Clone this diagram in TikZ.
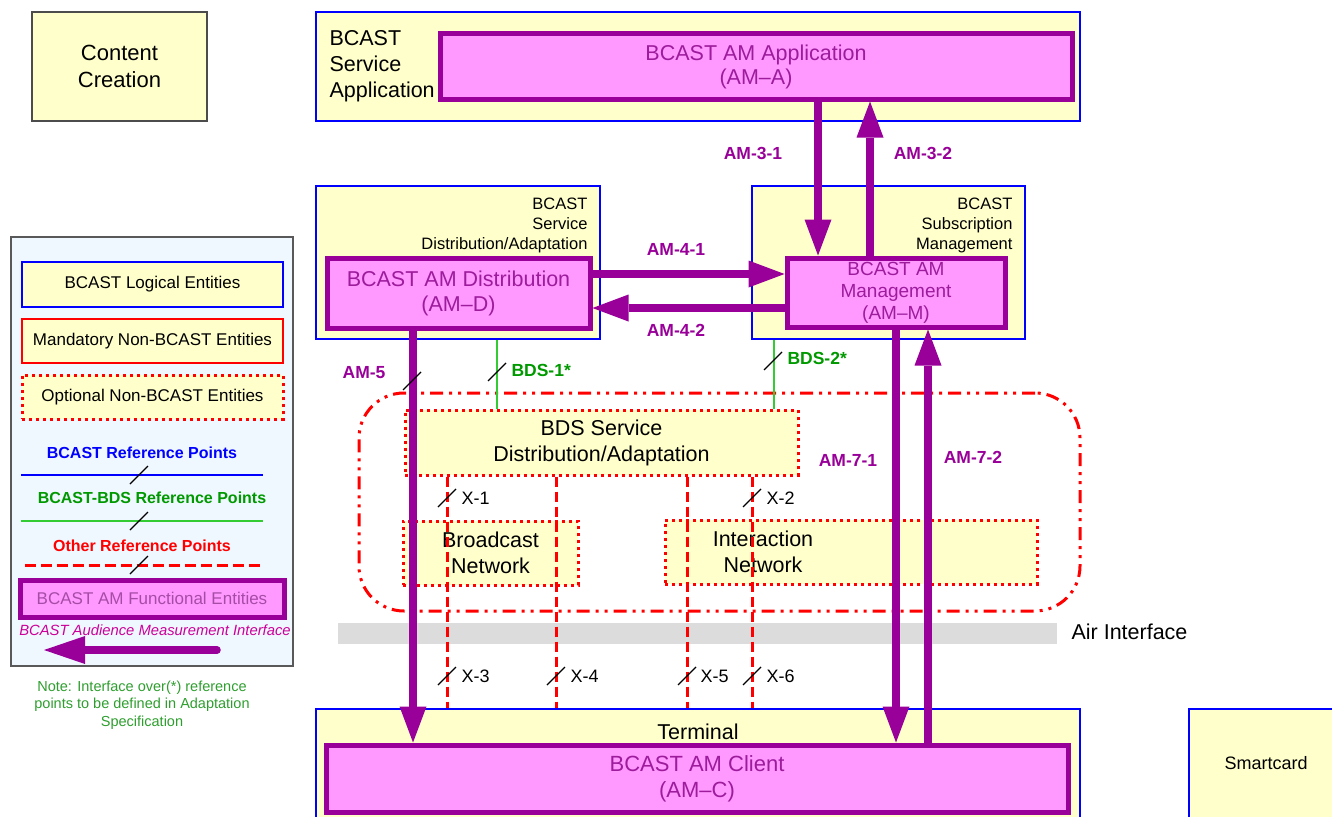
\documentclass[tikz,border=0pt]{standalone}
\usepackage{fontspec}
\setmainfont{Liberation Sans}
\usetikzlibrary{arrows.meta}
\definecolor{byel}{HTML}{FFFFCC}
\definecolor{bblue}{HTML}{0000FF}
\definecolor{ampurple}{HTML}{990099}
\definecolor{ampink}{HTML}{FF99FF}
\definecolor{amtext}{HTML}{9C1C9C}
\definecolor{amlight}{HTML}{A64CA6}
\definecolor{bgreen}{HTML}{33CC33}
\definecolor{tgreen}{HTML}{009900}
\definecolor{notegreen}{HTML}{2E9E2E}
\definecolor{lgbg}{HTML}{F0F8FF}
\definecolor{airgray}{HTML}{DCDCDC}
\definecolor{magtext}{HTML}{CC0099}
\newcommand{\myfs}[2]{\fontsize{#1}{#2}\selectfont}
\begin{document}
\begin{tikzpicture}[x=1pt,y=-1pt,
  ent/.style={draw=bblue, line width=2.8pt, fill=byel, inner sep=0pt},
  amf/.style={draw=ampurple, line width=5pt, fill=ampink, text=amtext, inner sep=0pt, align=center},
  optb/.style={draw=red, line width=3pt, dash pattern=on 3pt off 4pt, fill=byel, inner sep=0pt, align=center},
  plainb/.style={draw=black!70, line width=1.2pt, fill=byel, inner sep=0pt, align=center},
  amarr/.style={draw=ampurple, line width=7.8pt, -{Triangle[length=36pt,width=27pt,line width=0pt]}},
  greenl/.style={draw=bgreen, line width=2.5pt},
  xline/.style={draw=red, line width=3pt, dash pattern=on 10pt off 5pt},
  slashm/.style={draw=black, line width=1.2pt},
  amlab/.style={text=ampurple, font=\bfseries\myfs{17.5}{21}},
  xlab/.style={anchor=west, font=\myfs{18}{21}},
  bigtext/.style={font=\myfs{21.5}{26}, align=center}
]
\path[use as bounding box] (0,0) rectangle (1332,816);
\clip (0,0) rectangle (1332,816);

% ---------- Content creation ----------
\node[plainb, minimum width=175pt, minimum height=109pt, font=\myfs{22}{27}] (cc) at (119.5,66.5) {Content\\Creation};

% ---------- Legend ----------
\node[draw=black!65, line width=1.2pt, fill=lgbg, minimum width=282pt, minimum height=429pt, inner sep=0pt] (lgp) at (152,451.5) {};
\node[ent, minimum width=261pt, minimum height=45pt, font=\myfs{17}{20}] (lg1) at (152.5,284.5) {BCAST Logical Entities};
\node[draw=red, line width=1.5pt, fill=byel, inner sep=0pt, minimum width=261pt, minimum height=44pt, font=\myfs{17}{20}] (lg2) at (152.5,341) {Mandatory Non-BCAST Entities};
\node[optb, minimum width=261pt, minimum height=44pt, font=\myfs{17}{20}] (lg3) at (152.5,397) {Optional Non-BCAST Entities};

\node[font=\bfseries\myfs{16}{20}, text=bblue] (lgt1) at (142,453) {BCAST Reference Points};
\coordinate (lb1) at (21,475); \coordinate (lb2) at (263,475); \coordinate (ls1) at (139,475);
\draw[draw=bblue, line width=2.8pt] (lb1) -- (lb2);
\draw[slashm] ([shift={(-9,9)}]ls1) -- ([shift={(9,-9)}]ls1);

\node[font=\bfseries\myfs{16}{20}, text=tgreen] (lgt2) at (152,498) {BCAST-BDS Reference Points};
\coordinate (lg1a) at (21,521); \coordinate (lg1b) at (263,521); \coordinate (ls2) at (139,521);
\draw[greenl] (lg1a) -- (lg1b);
\draw[slashm] ([shift={(-9,9)}]ls2) -- ([shift={(9,-9)}]ls2);

\node[font=\bfseries\myfs{16}{20}, text=red] (lgt3) at (142,546) {Other Reference Points};
\coordinate (lr1) at (25,565); \coordinate (lr2) at (263,565); \coordinate (ls3) at (139,565);
\draw[draw=red, line width=3pt, dash pattern=on 11pt off 5pt] (lr1) -- (lr2);
\draw[slashm] ([shift={(-9,9)}]ls3) -- ([shift={(9,-9)}]ls3);

\node[amf, minimum width=264pt, minimum height=37pt, font=\myfs{17}{20}, text=amlight] (lg4) at (152,598.5) {BCAST AM Functional Entities};
\node[font=\itshape\myfs{14.8}{17}, text=magtext] (lgt4) at (155,630) {BCAST Audience Measurement Interface};
\coordinate (la1) at (217,650); \coordinate (la2) at (44,650);
\draw[draw=ampurple, line width=7.5pt, line cap=round, -{Triangle[length=41pt,width=28pt,line width=0pt]}] (la1) -- (la2);

\node[font=\myfs{14.5}{17.5}, text=notegreen, align=center] (note) at (142,705) {Note: Interface over(*) reference\\points to be defined in Adaptation\\Specification};

% ---------- Service application ----------
\node[ent, minimum width=764pt, minimum height=109pt] (sapp) at (698,66.5) {};
\node[font=\myfs{21.5}{26}, align=left, anchor=west] (saplab) at (326,66) {BCAST\\Service\\Application};
\node[amf, minimum width=632pt, minimum height=65pt, font=\myfs{21.5}{24}] (ama) at (756,66.5) {BCAST AM Application\\(AM–A)};

% ---------- Distribution / Subscription ----------
\node[ent, minimum width=284pt, minimum height=153pt] (dist) at (458,262.5) {};
\node[font=\myfs{16.5}{20}, align=right, anchor=east] (distlab) at (591,225) {BCAST\\Service\\Distribution/Adaptation};
\node[amf, minimum width=263pt, minimum height=70pt, font=\myfs{21.5}{25}] (amd) at (458.5,293) {BCAST AM Distribution\\(AM–D)};

\node[ent, minimum width=273pt, minimum height=153pt] (subm) at (888.5,262.5) {};
\node[font=\myfs{16.5}{20}, align=right, anchor=east] (submlab) at (1016,225) {BCAST\\Subscription\\Management};
\node[amf, minimum width=218pt, minimum height=69pt, font=\myfs{19}{22}] (amm) at (896,292.5) {BCAST AM\\Management\\(AM–M)};

% ---------- BDS region ----------
\node[draw=red, line width=3pt, dash pattern=on 13pt off 6pt on 3pt off 6pt on 3pt off 6pt, rounded corners=45pt, minimum width=721pt, minimum height=218pt, inner sep=0pt] (bigr) at (719.5,502) {};
\node[optb, minimum width=393pt, minimum height=65pt, font=\myfs{21.5}{26}] (bds) at (601.5,442.5) {BDS Service\\Distribution/Adaptation};
\node[optb, minimum width=175pt, minimum height=64pt, font=\myfs{21.5}{26}] (bnet) at (490.5,553) {Broadcast\\Network};
\node[optb, minimum width=372pt, minimum height=64pt] (inet) at (851,552) {};
\node[bigtext] (inetlab) at (763,552) {Interaction\\Network};

% ---------- Air interface ----------
\node[fill=airgray, minimum width=719pt, minimum height=21pt, inner sep=0pt] (air) at (697.5,633.5) {};
\node[anchor=west, font=\myfs{21.5}{26}] (airlab) at (1068,632) {Air Interface};

% ---------- Terminal / Smartcard ----------
\node[ent, minimum width=764pt, minimum height=121pt] (term) at (698,769.5) {};
\node[font=\myfs{21.5}{26}] (termlab) at (698,732) {Terminal};
\node[amf, minimum width=742pt, minimum height=67pt, font=\myfs{22}{26}] (amc) at (697,778.5) {BCAST AM Client\\(AM–C)};
\node[ent, minimum width=156pt, minimum height=121pt] (smc) at (1267,769.5) {};
\node[font=\myfs{18}{22}] (smclab) at (1266,763) {Smartcard};

% ---------- coordinates for connectors ----------
\coordinate (c31) at (818,0); \coordinate (c32) at (870,0);
\coordinate (c41) at (0,274); \coordinate (c42) at (0,308);
\coordinate (c5) at (413,0);
\coordinate (c71) at (896,0); \coordinate (c72) at (928,0);
\coordinate (g1) at (497,0); \coordinate (g2) at (774,0);
\coordinate (xa) at (447,0); \coordinate (xb) at (556,0);
\coordinate (xc) at (687,0); \coordinate (xd) at (752,0);

% green BCAST-BDS lines
\draw[greenl] (dist.south -| g1) -- (bds.north -| g1);
\draw[greenl] (subm.south -| g2) -- (bds.north -| g2);

% other reference points
\foreach \c in {xa,xb,xc,xd}
  \draw[xline] (bds.south -| \c) -- (term.north -| \c);

% AM interfaces
\draw[amarr] (ama.south -| c31) -- (amm.north -| c31);
\draw[amarr] (amm.north -| c32) -- (ama.south -| c32);
\draw[amarr] (amd.east |- c41) -- (amm.west |- c41);
\draw[amarr] (amm.west |- c42) -- (amd.east |- c42);
\draw[amarr] (amd.south -| c5) -- (amc.north -| c5);
\draw[amarr] (amm.south -| c71) -- (amc.north -| c71);
\draw[amarr] (amc.north -| c72) -- (amm.south -| c72);

% slash marks
\foreach \p/\q in {412/381, 497/372, 773/361, 447/498, 752/498, 447/676, 556/676, 687/676, 752/676}
  \draw[slashm] (\p-9,\q+9) -- (\p+9,\q-9);

% labels
\node[amlab] (l31) at (753,153) {AM-3-1};
\node[amlab] (l32) at (923,153) {AM-3-2};
\node[amlab] (l41) at (676,249) {AM-4-1};
\node[amlab] (l42) at (676,330) {AM-4-2};
\node[amlab] (l5) at (364,373) {AM-5};
\node[amlab] (l71) at (848,460) {AM-7-1};
\node[amlab] (l72) at (973,457) {AM-7-2};
\node[anchor=west, text=tgreen, font=\bfseries\myfs{17.5}{21}] (lb1t) at (508,370) {BDS-1*};
\node[anchor=west, text=tgreen, font=\bfseries\myfs{17.5}{21}] (lb2t) at (784,358) {BDS-2*};
\node[xlab] (lx1) at (458,498) {X-1};
\node[xlab] (lx2) at (763,498) {X-2};
\node[xlab] (lx3) at (458,676) {X-3};
\node[xlab] (lx4) at (567,676) {X-4};
\node[xlab] (lx5) at (697,676) {X-5};
\node[xlab] (lx6) at (763,676) {X-6};
\end{tikzpicture}
\end{document}
